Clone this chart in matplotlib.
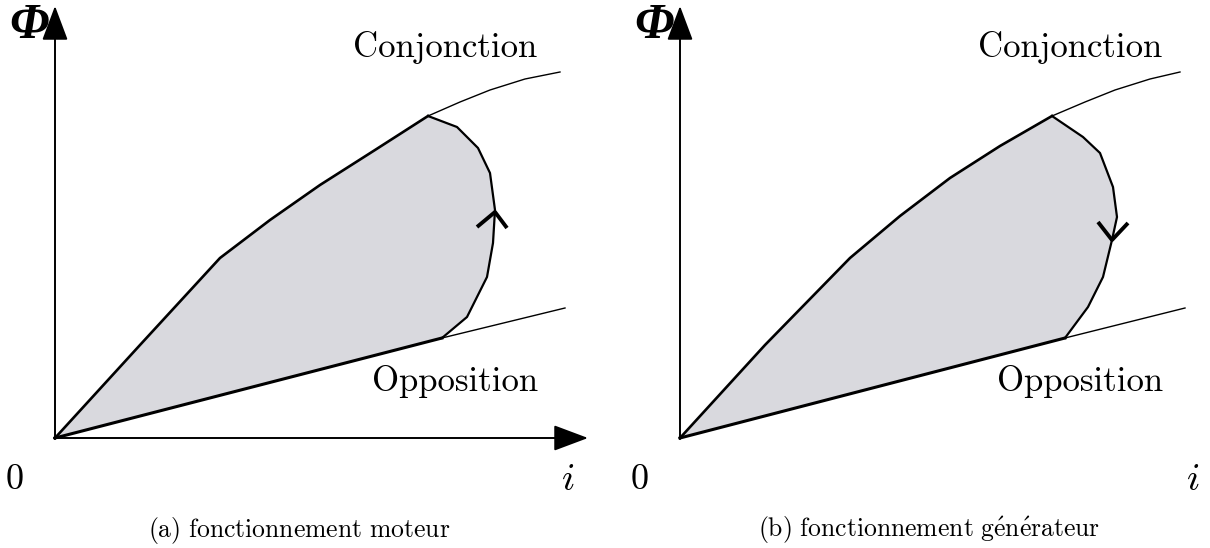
import numpy as np
import matplotlib
matplotlib.use('Agg')
import matplotlib.pyplot as plt

plt.rcParams['mathtext.fontset'] = 'cm'
plt.rcParams['font.family'] = ['cmr10', 'DejaVu Serif']

# Flux / current diagram (arbitrary units)
# (a) moteur
ConjA_i = [0, 85, 165, 215, 265, 320, 373]
ConjA_phi = [0, 93, 180, 218, 253, 288, 322]
ConjTailA_i = [373, 405, 435, 470, 505]
ConjTailA_phi = [322, 336, 348, 359, 366]
LoopA_i = [373, 402, 423, 435, 440, 438, 432, 412, 387]
LoopA_phi = [322, 311, 290, 265, 228, 195, 161, 121, 100]
OppA_i = [0, 387]
OppA_phi = [0, 100]
OppTailA_i = [387, 510]
OppTailA_phi = [100, 130]
ArrowA_i = [422, 440, 452]
ArrowA_phi = [211, 226, 210]

# (b) generateur
ConjB_i = [0, 85, 170, 220, 270, 320, 372]
ConjB_phi = [0, 93, 180, 222, 260, 292, 322]
ConjTailB_i = [372, 405, 435, 470, 500]
ConjTailB_phi = [322, 336, 348, 359, 366]
LoopB_i = [372, 403, 420, 433, 437, 432, 423, 408, 385]
LoopB_phi = [322, 301, 285, 251, 221, 198, 161, 131, 100]
OppB_i = [0, 385]
OppB_phi = [0, 100]
OppTailB_i = [385, 505]
OppTailB_phi = [100, 130]
ArrowB_i = [418, 432, 448]
ArrowB_phi = [216, 198, 215]

Captions = [r'$\mathrm{(a)\ fonctionnement\ moteur}$',
            r'$\mathrm{(b)\ fonctionnement\ g\acute{e}n\acute{e}rateur}$']
CaptionPos = [244, 249]

FillColor = '#d9d9de'


def draw_panel(ax, conj, conjtail, loop, opp, opptail, arrow, caption, cap_i, x0):
    ax.set_xlim(-x0, 605 - x0)
    ax.set_ylim(-110, 438)
    ax.axis('off')

    # shaded operating area
    poly_i = list(conj[0]) + list(loop[0][1:]) + [0]
    poly_phi = list(conj[1]) + list(loop[1][1:]) + [0]
    ax.fill(poly_i, poly_phi, color=FillColor, lw=0)

    ax.plot(conj[0], conj[1], color='black', lw=1.9, solid_joinstyle='round')
    ax.plot(conjtail[0], conjtail[1], color='black', lw=1.0)
    ax.plot(loop[0], loop[1], color='black', lw=1.6, solid_joinstyle='round')
    ax.plot(opp[0], opp[1], color='black', lw=2.2)
    ax.plot(opptail[0], opptail[1], color='black', lw=1.0)
    ax.plot(arrow[0], arrow[1], color='black', lw=2.8, solid_capstyle='butt')

    # axes with arrow heads
    style = '-|>,head_length=1.2,head_width=0.45'
    ax.annotate('', xy=(533, 0), xytext=(-1, 0),
                arrowprops=dict(arrowstyle=style, color='black', lw=1.4,
                                mutation_scale=18, shrinkA=0, shrinkB=0))
    ax.annotate('', xy=(0, 432), xytext=(0, -1),
                arrowprops=dict(arrowstyle=style, color='black', lw=1.4,
                                mutation_scale=18, shrinkA=0, shrinkB=0))

    ax.text(-26, 412, 'Φ', family='Liberation Serif', style='italic', weight='bold',
            fontsize=36, ha='center', va='center')
    ax.text(390, 390, 'Conjonction', fontsize=25, ha='center', va='center')
    ax.text(400, 56, 'Opposition', fontsize=25, ha='center', va='center')
    ax.text(-40, -42, '0', fontsize=26, ha='center', va='center')
    ax.text(513, -42, r'$i$', fontsize=28, ha='center', va='center')
    ax.text(cap_i, -92, caption, fontsize=18.5, ha='center', va='center')


fig = plt.figure(figsize=(12.1, 5.48), dpi=100)
axA = fig.add_axes([0, 0, 605 / 1210, 1])
axB = fig.add_axes([605 / 1210, 0, 605 / 1210, 1])

draw_panel(axA, (ConjA_i, ConjA_phi), (ConjTailA_i, ConjTailA_phi),
           (LoopA_i, LoopA_phi), (OppA_i, OppA_phi), (OppTailA_i, OppTailA_phi),
           (ArrowA_i, ArrowA_phi), Captions[0], CaptionPos[0], 55)
draw_panel(axB, (ConjB_i, ConjB_phi), (ConjTailB_i, ConjTailB_phi),
           (LoopB_i, LoopB_phi), (OppB_i, OppB_phi), (OppTailB_i, OppTailB_phi),
           (ArrowB_i, ArrowB_phi), Captions[1], CaptionPos[1], 75)

fig.savefig('out.png', dpi=100)
